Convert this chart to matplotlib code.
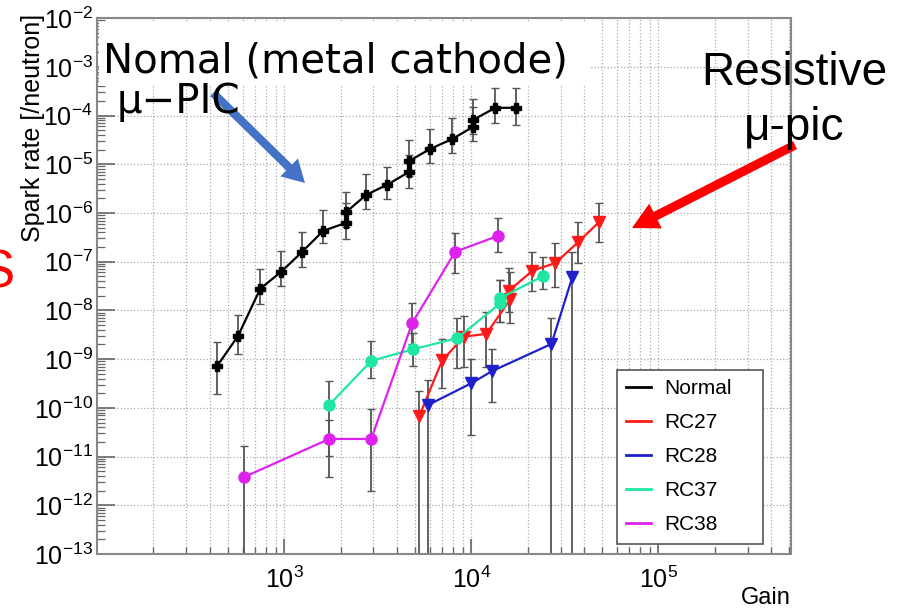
import matplotlib
matplotlib.use("Agg")
import matplotlib.pyplot as plt
from matplotlib.patches import Rectangle
from matplotlib.ticker import LogLocator, NullFormatter

plt.rcParams['font.family'] = ['Liberation Sans', 'DejaVu Sans']

# --- datos ---
normal_gain = [438, 567, 745, 964, 1248, 1617, 2148, 2148, 2745, 3556, 4656, 4656,
               6040, 7910, 10250, 10250, 13430, 17420]
normal_rate = [7.2e-10, 3.0e-9, 2.8e-8, 6.2e-8, 1.6e-7, 4.3e-7, 6.3e-7, 1.05e-6, 2.36e-6,
               3.8e-6, 7.0e-6, 1.17e-5, 2.07e-5, 3.3e-5, 5.9e-5, 8.2e-5, 1.44e-4, 1.44e-4]
normal_hi = [2.2e-9, 8.1e-9, 7.1e-8, 1.67e-7, 4.1e-7, 1.16e-6, 1.6e-6, 2.7e-6, 6.4e-6,
             8.9e-6, 1.56e-5, 3.2e-5, 5.3e-5, 9.0e-5, 1.5e-4, 2.2e-4, 3.7e-4, 3.7e-4]
normal_lo = [1.9e-10, 1.3e-9, 1.36e-8, 3.2e-8, 7.8e-8, 2.4e-7, 2.9e-7, 5.2e-7, 1.2e-6,
             1.95e-6, 3.3e-6, 5.8e-6, 1.07e-5, 1.7e-5, 3.0e-5, 4.2e-5, 7.1e-5, 6.4e-5]

rc27_gain = [5270, 7000, 9180, 12030, 16180, 15800, 21180, 28130, 37340, 48300]
rc27_rate = [6.8e-11, 9.6e-10, 2.9e-9, 3.3e-9, 1.7e-8, 2.5e-8, 6.5e-8, 9.4e-8, 2.55e-7, 6.6e-7]
rc27_hi = [2.2e-10, 2.6e-9, 7.7e-9, 9.3e-9, 6.2e-8, 7.5e-8, 1.6e-7, 2.4e-7, 6.6e-7, 1.6e-6]
rc27_lo = [1e-20, 2.6e-10, 6.9e-10, 6.9e-10, 5.5e-9, 9.3e-9, 2.5e-8, 3.0e-8, 9.4e-8, 2.55e-7]

rc28_gain = [5890, 10000, 12940, 26800, 34680]
rc28_rate = [1.15e-10, 3.2e-10, 5.7e-10, 2.05e-9, 4.9e-8]
rc28_hi = [3.7e-10, 1.0e-9, 1.6e-9, 7.0e-9, 1.6e-7]
rc28_lo = [1e-20, 2.8e-11, 1.3e-10, 1e-20, 1e-20]

rc37_gain = [1741, 2917, 4900, 8410, 14290, 14290, 24270]
rc37_rate = [1.15e-10, 9.2e-10, 1.6e-9, 2.7e-9, 1.4e-8, 1.8e-8, 5.1e-8]
rc37_hi = [3.6e-10, 2.4e-9, 3.5e-9, 7.0e-9, 4.2e-8, 4.2e-8, 1.26e-7]
rc37_lo = [1.03e-11, 4.1e-10, 7.2e-10, 6.6e-10, 5.8e-9, 5.8e-9, 2.8e-8]

rc38_gain = [611, 1741, 2917, 4832, 8200, 13930]
rc38_rate = [3.8e-12, 2.3e-11, 2.3e-11, 5.5e-9, 1.6e-7, 3.4e-7]
rc38_hi = [1.65e-11, 5.6e-11, 9.5e-11, 1.4e-8, 3.9e-7, 7.9e-7]
rc38_lo = [1e-20, 3.8e-12, 2.0e-12, 2.0e-9, 5.9e-8, 1.6e-7]

series = [
    ('Normal', normal_gain, normal_rate, normal_lo, normal_hi, 'black', 'P', 7),
    ('RC27', rc27_gain, rc27_rate, rc27_lo, rc27_hi, '#ff1a1a', 'v', 8.5),
    ('RC28', rc28_gain, rc28_rate, rc28_lo, rc28_hi, '#1f1fcc', 'v', 8.5),
    ('RC37', rc37_gain, rc37_rate, rc37_lo, rc37_hi, '#1fe6a0', 'o', 8),
    ('RC38', rc38_gain, rc38_rate, rc38_lo, rc38_hi, '#dd22ee', 'o', 8),
]

fig = plt.figure(figsize=(9.07, 6.09), dpi=100)
ax = fig.add_axes([0.107, 0.0903, 0.765, 0.880])

for name, gx, gy, lo, hi, col, mk, ms in series:
    yerr = [[y - l for y, l in zip(gy, lo)], [h - y for y, h in zip(gy, hi)]]
    ax.errorbar(gx, gy, yerr=yerr, fmt='none', ecolor='#555555', elinewidth=1.3,
                capsize=3, capthick=1.0, zorder=2)
    ax.plot(gx, gy, color=col, lw=1.6, marker=mk, ms=ms, mec=col, mfc=col,
            label=name, zorder=3)

ax.set_xscale('log')
ax.set_yscale('log')
ax.set_xlim(100, 5.1e5)
ax.set_ylim(1e-13, 1e-2)

ax.set_xticks([1e3, 1e4, 1e5])
ax.xaxis.set_minor_locator(LogLocator(base=10, subs=range(2, 10), numticks=20))
ax.xaxis.set_minor_formatter(NullFormatter())
ax.yaxis.set_major_locator(LogLocator(base=10, numticks=20))
ax.yaxis.set_minor_locator(LogLocator(base=10, subs=range(2, 10), numticks=40))
ax.yaxis.set_minor_formatter(NullFormatter())

ax.tick_params(which='both', direction='in', top=False, right=False, color='#666666')
ax.tick_params(axis='x', which='major', length=11, width=1.2, labelsize=18, pad=9)
ax.tick_params(axis='x', which='minor', length=5, width=1.0)
ax.tick_params(axis='y', which='major', length=13, width=1.2, labelsize=18, pad=3)
ax.tick_params(axis='y', which='minor', length=6, width=0.9)

ax.grid(True, which='major', ls=':', color='#aaaaaa', lw=0.9)
ax.grid(True, which='minor', axis='x', ls=':', color='#aaaaaa', lw=0.9)
ax.set_axisbelow(True)

for sp in ax.spines.values():
    sp.set_color('#888888')
    sp.set_linewidth(1.5)

ax.set_ylabel('Spark rate [/neutron]', fontsize=18, loc='top')
ax.yaxis.set_label_coords(-0.075, 1.007)
ax.set_xlabel('Gain', fontsize=17, loc='right')
ax.xaxis.set_label_coords(1.0, -0.062)

leg = ax.legend(loc='upper left', bbox_to_anchor=(617 / 907, 1 - 370 / 609 - 0.01, 146 / 907, 0.01),
                bbox_transform=fig.transFigure, mode='expand', fontsize=15,
                handlelength=1.2, handletextpad=0.6, labelspacing=0.72, borderpad=0.45,
                fancybox=False, framealpha=1, edgecolor='#555555', borderaxespad=0)
leg.get_frame().set_linewidth(1.2)
for line in leg.get_lines():
    line.set_marker('')
    line.set_linewidth(2)

# --- anotaciones superpuestas ---
fig.patches.append(Rectangle((99 / 907, 1 - 86 / 609), 492 / 907, 64 / 609,
                             transform=fig.transFigure, facecolor='white',
                             edgecolor='none', zorder=5))
fig.text(103 / 907, 1 - 72 / 609, 'Nomal (metal cathode)', fontsize=29,
         family='DejaVu Sans', va='baseline', ha='left', zorder=6)
fig.text(117 / 907, 1 - 113 / 609, 'μ\u2212PIC', fontsize=29,
         family='DejaVu Sans', va='baseline', ha='left', zorder=6)

fig.text(794 / 907, 1 - 85 / 609, 'Resistive', fontsize=33, va='baseline', ha='center', zorder=6)
fig.text(794 / 907, 1 - 140 / 609, 'μ-pic', fontsize=33, va='baseline', ha='center', zorder=6)

fig.text(15 / 907, 1 - 287 / 609, 'S', fontsize=38, color='red', va='baseline', ha='right')

ax.annotate('', xy=(305, 609 - 183), xytext=(213, 609 - 93), xycoords='figure pixels',
            textcoords='figure pixels',
            arrowprops=dict(facecolor='#4472c4', edgecolor='none', width=6,
                            headwidth=18, headlength=16, shrink=0), zorder=7)
ax.annotate('', xy=(632, 609 - 228), xytext=(795, 609 - 145), xycoords='figure pixels',
            textcoords='figure pixels',
            arrowprops=dict(facecolor='#ff0000', edgecolor='none', width=6.5,
                            headwidth=20, headlength=19, shrink=0), zorder=7)

plt.savefig('out.png', dpi=100)
